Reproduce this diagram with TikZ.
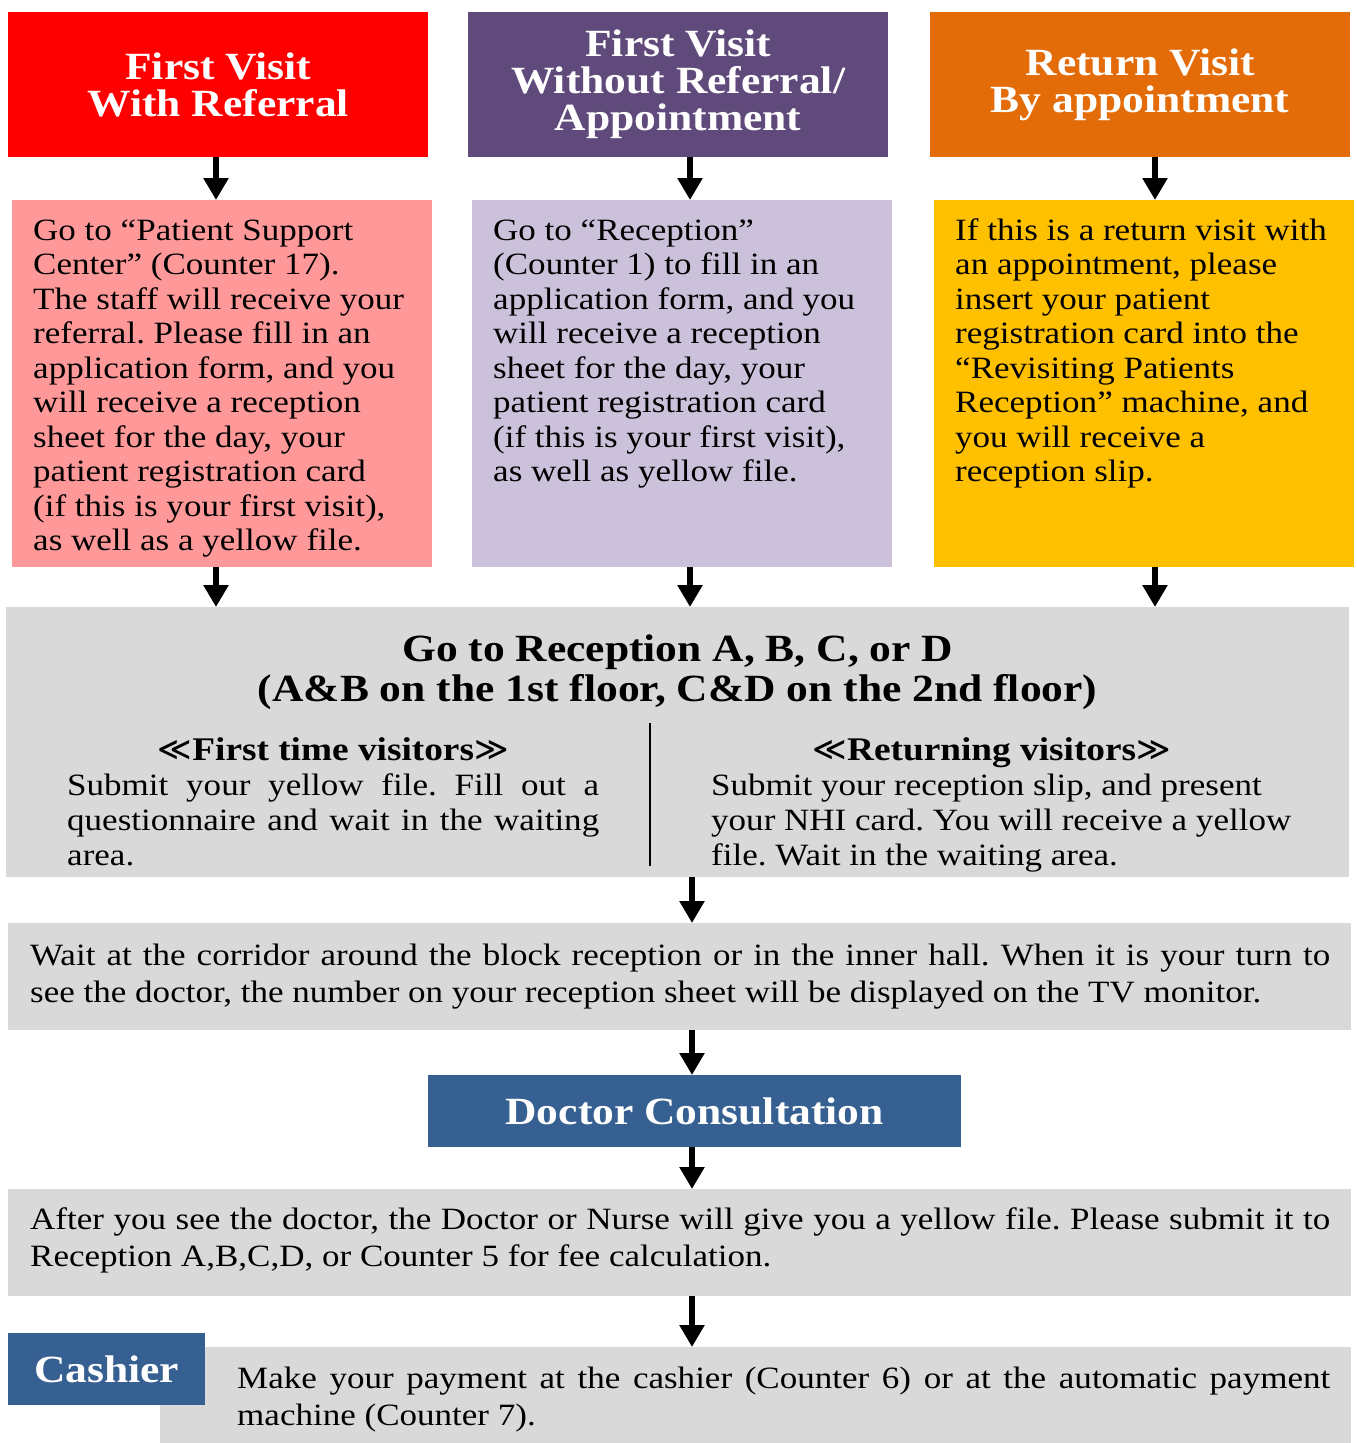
\documentclass[tikz,border=0pt]{standalone}
\usepackage{fontspec}
\setmainfont[FakeStretch=1.13]{Liberation Serif}
\newfontfamily\symfont{DejaVu Sans}
\usetikzlibrary{arrows.meta,positioning}

\definecolor{hdrred}{RGB}{255,0,0}
\definecolor{hdrpurple}{RGB}{96,74,123}
\definecolor{hdrorange}{RGB}{227,108,9}
\definecolor{notepink}{RGB}{255,153,153}
\definecolor{notelilac}{RGB}{204,193,218}
\definecolor{noteyellow}{RGB}{255,192,0}
\definecolor{stepgray}{RGB}{217,217,217}
\definecolor{stepblue}{RGB}{54,96,146}

\newcommand{\hdrfont}{\fontsize{38.5}{37}\selectfont\bfseries}
\newcommand{\txtfont}{\fontsize{31}{34.5}\selectfont}
\newcommand{\colfont}{\fontsize{31}{35}\selectfont}
\newcommand{\widefont}{\fontsize{31}{37}\selectfont}
\newcommand{\subhead}[1]{{\fontsize{33}{35}\selectfont\bfseries{\symfont\mdseries ≪}#1{\symfont\mdseries ≫}}}
\frenchspacing

\begin{document}
\begin{tikzpicture}[x=1pt,y=-1pt,
  hdr/.style={anchor=north west,inner sep=0,minimum width=420pt,minimum height=145pt,
    text=white,font=\hdrfont,align=center},
  note/.style={anchor=north west,inner sep=0,minimum width=420pt,minimum height=367pt},
  txt/.style={anchor=north west,inner sep=0,align=left,font=\txtfont},
  stepbox/.style={anchor=north west,inner sep=0,fill=stepgray,minimum width=1343pt},
  bluebox/.style={anchor=north west,inner sep=0,fill=stepblue,text=white,font=\hdrfont},
  flow/.style={line width=6pt,-{Triangle[length=22pt,width=24pt]}}]

\useasboundingbox (0,0) rectangle (1357,1443);

% arrow columns
\coordinate (c1) at (216,0);
\coordinate (c2) at (690,0);
\coordinate (c3) at (1155,0);
\coordinate (cm) at (692,0);

% headers
\node[hdr,fill=hdrred] (h1) at (8,12) {First Visit\\With Referral};
\node[hdr,fill=hdrpurple] (h2) at (468,12) {First Visit\\Without Referral/\\Appointment};
\node[hdr,fill=hdrorange] (h3) at (930,12) {Return Visit\\By appointment};

% notes
\node[note,fill=notepink] (b1) at (12,200) {};
\node[note,fill=notelilac] (b2) at (472,200) {};
\node[note,fill=noteyellow] (b3) at (934,200) {};

\node[txt] (t1) at ([shift={(21,16)}]b1.north west) {\strut Go to “Patient Support\\
  Center” (Counter 17).\\The staff will receive your\\referral. Please fill in an\\
  application form, and you\\will receive a reception\\sheet for the day, your\\
  patient registration card\\(if this is your first visit),\\as well as a yellow file.};
\node[txt] (t2) at ([shift={(21,16)}]b2.north west) {\strut Go to “Reception”\\
  (Counter 1) to fill in an\\application form, and you\\will receive a reception\\
  sheet for the day, your\\patient registration card\\(if this is your first visit),\\
  as well as yellow file.};
\node[txt] (t3) at ([shift={(21,16)}]b3.north west) {\strut If this is a return visit with\\
  an appointment, please\\insert your patient\\registration card into the\\
  “Revisiting Patients\\Reception” machine, and\\you will receive a\\reception slip.};

% reception
\node[stepbox,minimum height=270pt] (recep) at (6,607) {};
\node[anchor=north,inner sep=0,align=center,font=\hdrfont] (rtitle)
  at ([yshift=-28pt]recep.north) {\strut Go to Reception A, B, C, or D\\
  (A\&B on the 1st floor, C\&D on the 2nd floor)};
\node[anchor=north west,inner sep=0,align=center,font=\colfont] (first)
  at ([shift={(61,128.5)}]recep.north west)
  {\strut\subhead{First time visitors}\\
  \makebox[532pt][s]{Submit your yellow file. Fill out a}\\
  \makebox[532pt][s]{questionnaire and wait in the waiting}\\
  \makebox[532pt][l]{area.}};
\node[anchor=north west,inner sep=0,align=center,font=\colfont] (again)
  at ([shift={(705,128.5)}]recep.north west)
  {\strut\subhead{Returning visitors}\\
  \makebox[561pt][l]{Submit your reception slip, and present}\\
  \makebox[561pt][l]{your NHI card. You will receive a yellow}\\
  \makebox[561pt][l]{file. Wait in the waiting area.}};
\draw[line width=1.2pt] (650,723) -- (650,866);

% waiting
\node[stepbox,minimum height=107pt] (wait) at (8,923) {};
\node[txt,font=\widefont] (wtext) at ([shift={(22,16)}]wait.north west)
  {\strut\makebox[1300pt][s]{Wait at the corridor around the block reception or in the inner hall. When it is your turn to}\\
  see the doctor, the number on your reception sheet will be displayed on the TV monitor.};

\node[bluebox,minimum width=533pt,minimum height=72pt] (doc) at (428,1075) {Doctor Consultation};

\node[stepbox,minimum height=107pt] (after) at (8,1189) {};
\node[txt,font=\widefont] (atext) at ([shift={(22,14)}]after.north west)
  {\strut\makebox[1300pt][s]{After you see the doctor, the Doctor or Nurse will give you a yellow file. Please submit it to}\\
  Reception A,B,C,D, or Counter 5 for fee calculation.};

\node[stepbox,minimum width=1191pt,minimum height=96pt] (pay) at (160,1347) {};
\node[txt,font=\widefont] (ptext) at ([shift={(77,15)}]pay.north west)
  {\strut\makebox[1093pt][s]{Make your payment at the cashier (Counter 6) or at the automatic payment}\\
  machine (Counter 7).};
\node[bluebox,minimum width=197pt,minimum height=72pt] (cash) at (8,1333) {Cashier};

% arrows
\draw[flow] (h1.south -| c1) -- (b1.north -| c1);
\draw[flow] (h2.south -| c2) -- (b2.north -| c2);
\draw[flow] (h3.south -| c3) -- (b3.north -| c3);
\draw[flow] (b1.south -| c1) -- (recep.north -| c1);
\draw[flow] (b2.south -| c2) -- (recep.north -| c2);
\draw[flow] (b3.south -| c3) -- (recep.north -| c3);
\draw[flow] (recep.south -| cm) -- (wait.north -| cm);
\draw[flow] (wait.south -| cm) -- (doc.north -| cm);
\draw[flow] (doc.south -| cm) -- (after.north -| cm);
\draw[flow] (after.south -| cm) -- (pay.north -| cm);

\end{tikzpicture}
\end{document}
